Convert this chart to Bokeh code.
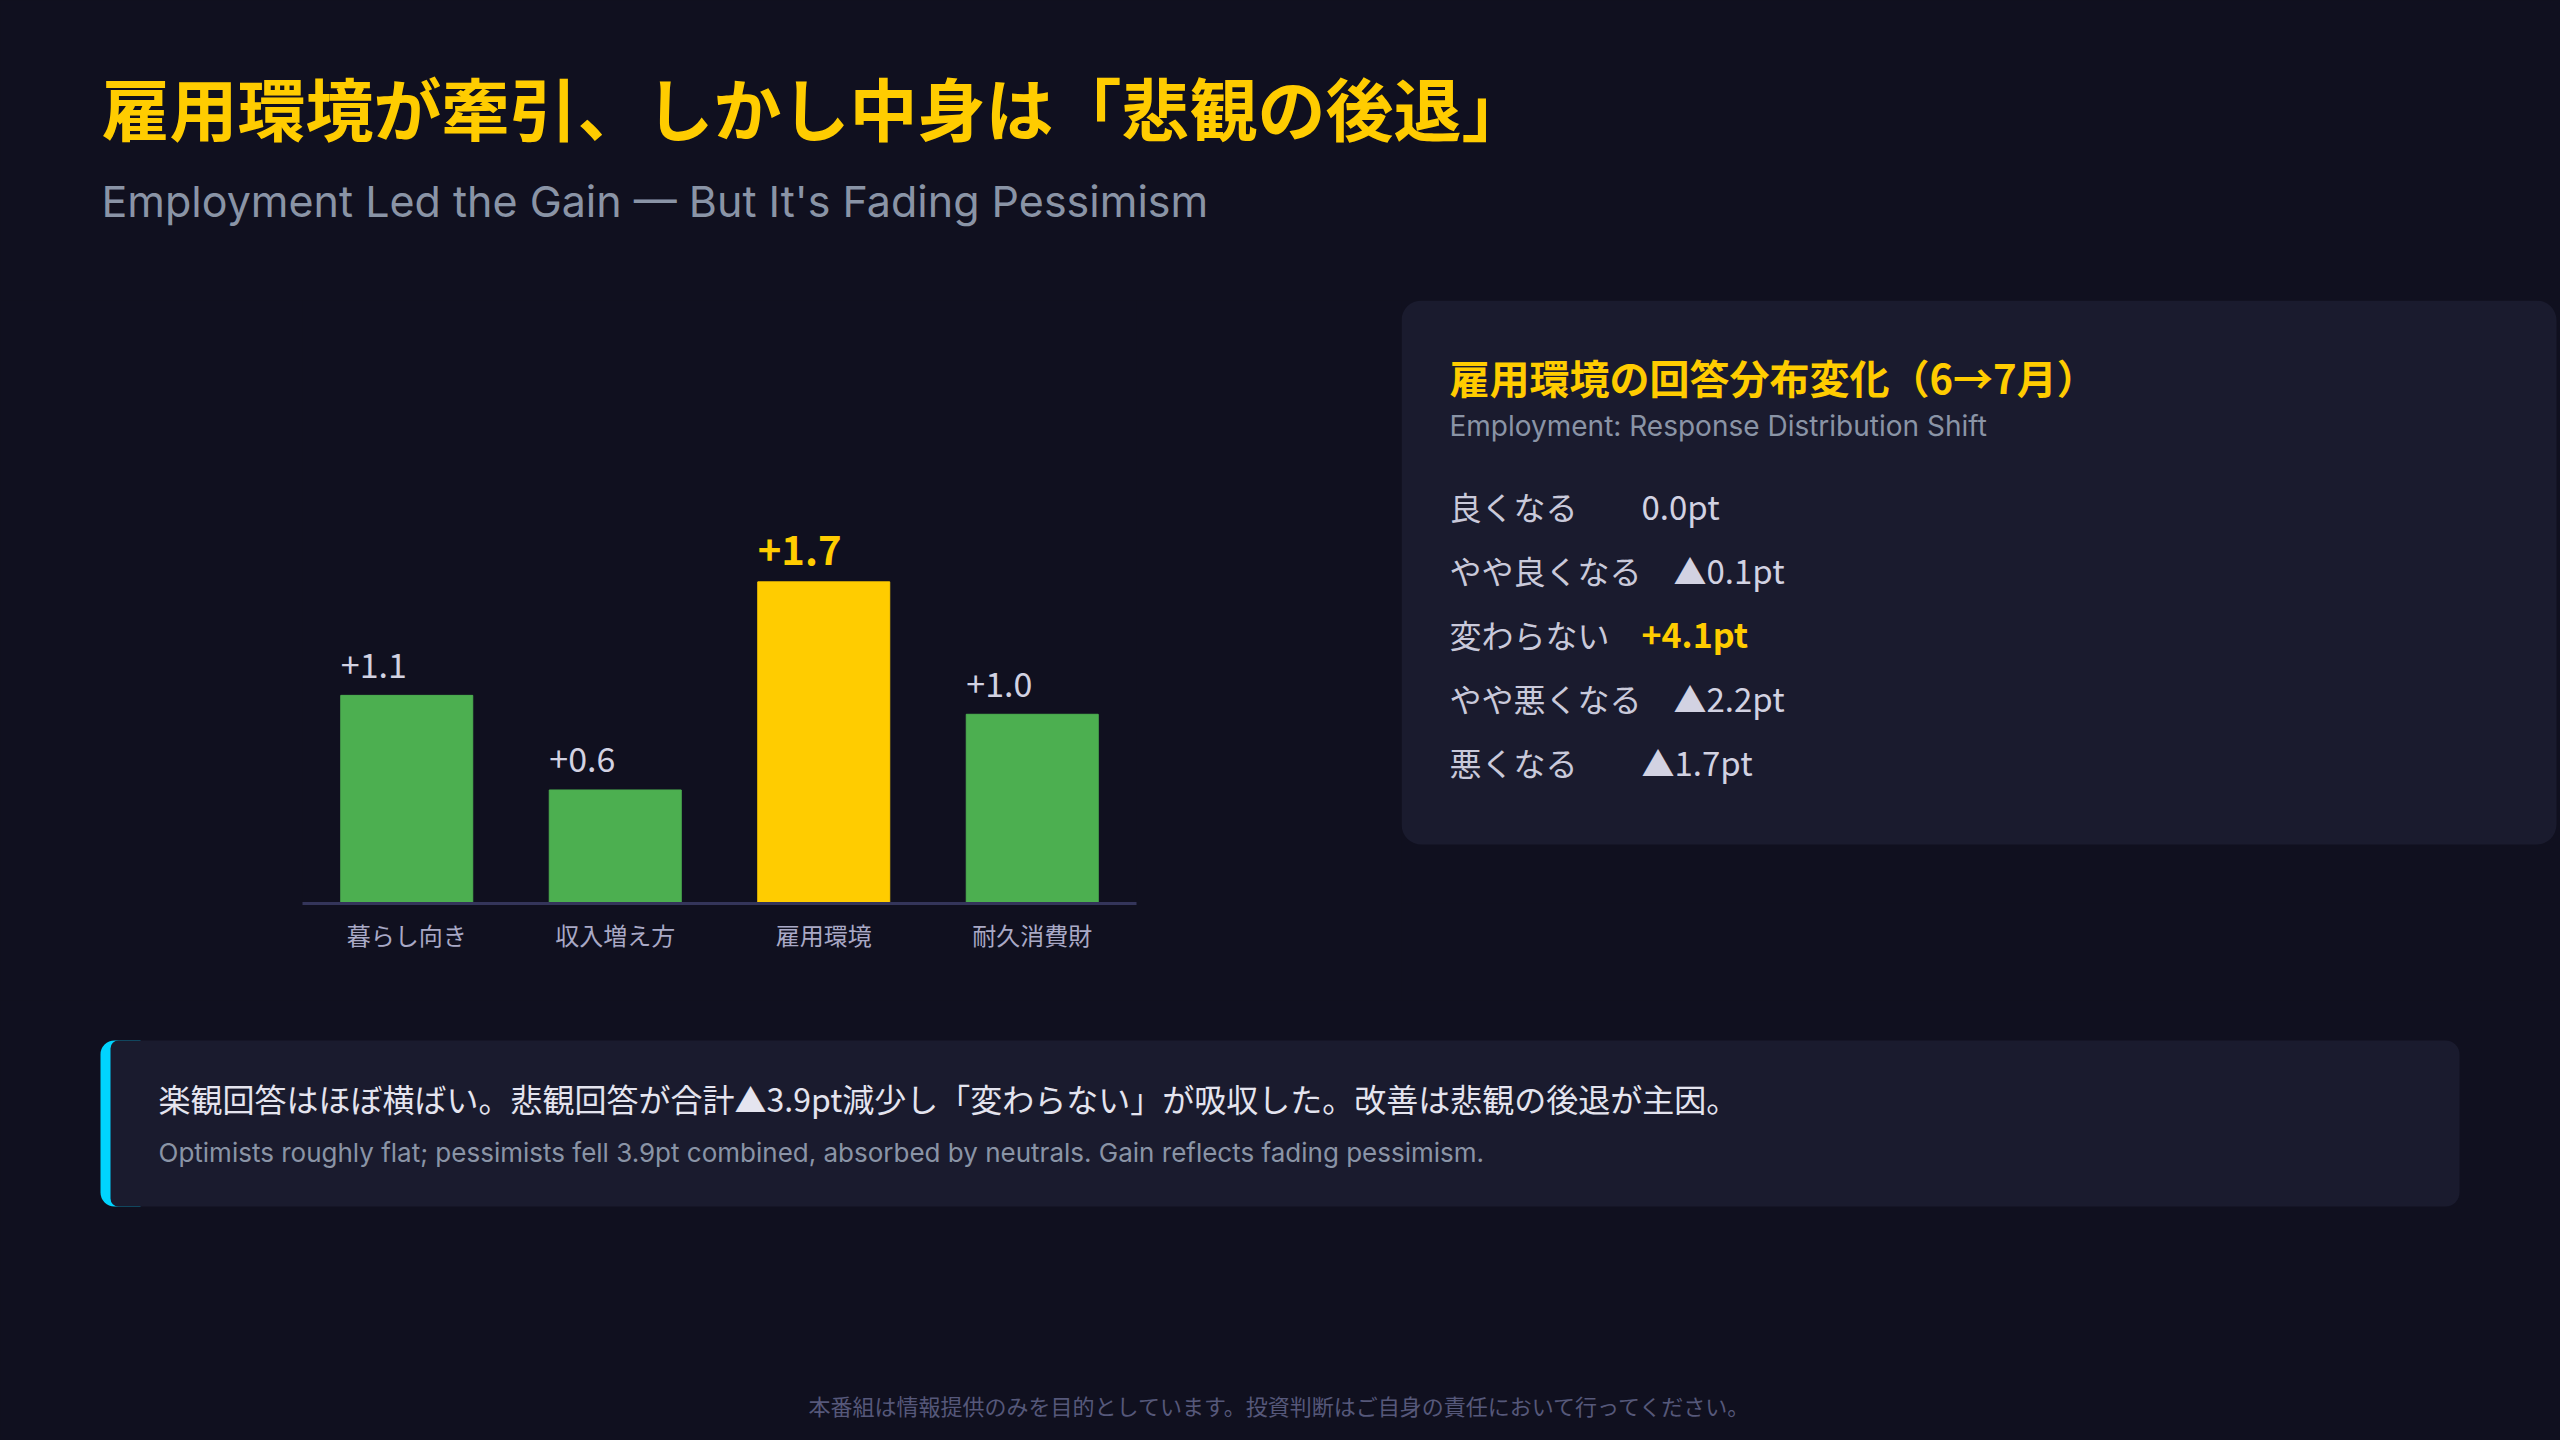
from bokeh.plotting import figure
from bokeh.models import Range1d, FactorRange, ColumnDataSource
from bokeh.layouts import column, row
from bokeh.transform import dodge
from bokeh.core.properties import value
from bokeh.embed import file_html
from bokeh.resources import INLINE

# ---------------- data ----------------
categories = ["暮らし向き", "収入増え方", "雇用環境", "耐久消費財"]
changes = [1.1, 0.6, 1.7, 1.0]

dist_labels = ["良くなる", "やや良くなる", "変わらない", "やや悪くなる", "悪くなる"]
dist_changes = [0.0, -0.1, 4.1, -2.2, -1.7]

title_ja = "雇用環境が牽引、しかし中身は「悲観の後退」"
title_en = "Employment Led the Gain — But It's Fading Pessimism"
card_title = "雇用環境の回答分布変化（6→7月）"
card_sub = "Employment: Response Distribution Shift"
note_ja = "楽観回答はほぼ横ばい。悲観回答が合計▲3.9pt減少し「変わらない」が吸収した。改善は悲観の後退が主因。"
note_en = "Optimists roughly flat; pessimists fell 3.9pt combined, absorbed by neutrals. Gain reflects fading pessimism."
footer = "本番組は情報提供のみを目的としています。投資判断はご自身の責任において行ってください。"

# ---------------- style ----------------
BG = "#10101f"
CARD = "#1a1b2e"
YELLOW = "#ffcc00"
GREEN = "#4caf50"
CYAN = "#00d4ff"
GREY = "#8a94a6"
LIGHT = "#d2d2e2"
JP = value("Noto Sans CJK JP")
EN = value("Inter")


def fmt(v, unit=""):
    if v > 0:
        return "+%.1f%s" % (v, unit)
    if v < 0:
        return "▲%.1f%s" % (abs(v), unit)
    return "%.1f%s" % (v, unit)


def canvas(x0, x1, y0, y1, bt=0, bb=0):
    # a drawing surface whose data coordinates are page pixels (y downwards)
    p = figure(width=x1 - x0, height=y1 - y0,
               x_range=Range1d(x0, x1), y_range=Range1d(y1 - bb, y0 + bt),
               toolbar_location=None, output_backend="svg",
               x_axis_location=None, y_axis_location=None,
               min_border=0, min_border_left=0, min_border_right=0,
               min_border_top=bt, min_border_bottom=bb,
               background_fill_color=BG, border_fill_color=BG,
               outline_line_color=None)
    p.grid.visible = False
    return p


# ---------------- header ----------------
top = canvas(0, 2560, 0, 300)
top.text(x=[101], y=[106], text=[title_ja], text_font=JP, text_font_style="bold",
         text_font_size="68px", text_color=YELLOW, text_baseline="middle")
top.text(x=[101], y=[200], text=[title_en], text_font=EN,
         text_font_size="43px", text_color=GREY, text_baseline="middle")

# ---------------- bar chart ----------------
hi = changes.index(max(changes))
bar_src = ColumnDataSource(dict(
    cat=categories, val=changes,
    color=[YELLOW if i == hi else GREEN for i in range(len(changes))]))
lab_norm = ColumnDataSource(dict(
    cat=[c for i, c in enumerate(categories) if i != hi],
    val=[v for i, v in enumerate(changes) if i != hi],
    txt=[fmt(v) for i, v in enumerate(changes) if i != hi]))
lab_hi = ColumnDataSource(dict(cat=[categories[hi]], val=[changes[hi]],
                               txt=[fmt(changes[hi])]))

bp = figure(width=1401, height=700,
            x_range=FactorRange(*categories, range_padding=0, factor_padding=0),
            y_range=Range1d(0, 3.187),
            toolbar_location=None, output_backend="svg",
            y_axis_location=None,
            min_border_left=302, min_border_right=265,
            min_border_top=0, min_border_bottom=97,
            background_fill_color=BG, border_fill_color=BG,
            outline_line_color=None)
bp.grid.visible = False
BW = 0.633
bp.vbar(x="cat", top="val", width=BW, color="color", source=bar_src)
bp.text(x=dodge("cat", -BW / 2, range=bp.x_range), y="val", text="txt",
        source=lab_norm, text_font=JP, text_font_size="34px",
        text_color=LIGHT, text_baseline="middle", y_offset=-30)
bp.text(x=dodge("cat", -BW / 2, range=bp.x_range), y="val", text="txt",
        source=lab_hi, text_font=JP, text_font_style="bold",
        text_font_size="40px", text_color=YELLOW,
        text_baseline="middle", y_offset=-32)
ax = bp.xaxis[0]
ax.axis_line_color = "#34355a"
ax.axis_line_width = 3
ax.major_tick_line_color = None
ax.minor_tick_line_color = None
ax.major_tick_out = 0
ax.major_label_standoff = 13
ax.major_label_text_font = "Noto Sans CJK JP"
ax.major_label_text_font_size = "24px"
ax.major_label_text_color = "#a9a9c6"

# ---------------- card ----------------
card = canvas(1401, 2560, 300, 1000, bt=0, bb=97)
card.quad(left=[1401], right=[2556], top=[300], bottom=[844],
          fill_color=CARD, line_color=None, border_radius=20)
card.text(x=[1449], y=[376], text=[card_title], text_font=JP,
          text_font_style="bold", text_font_size="40px", text_color=YELLOW,
          text_baseline="middle")
card.text(x=[1449], y=[425], text=[card_sub], text_font=EN,
          text_font_size="28px", text_color=GREY, text_baseline="middle")
ROW_X, ROW_Y0, ROW_DY, ROW_FS = 1449, 505, 64, 32
row_y = [ROW_Y0 + i * ROW_DY for i in range(len(dist_labels))]
card.text(x=[ROW_X] * len(dist_labels), y=row_y, text=dist_labels,
          text_font=JP, text_font_size="32px", text_color="#c9c9da",
          text_baseline="middle")
dhi = dist_changes.index(max(dist_changes))
val_x = [ROW_X + (max(len(l), 5) + 1) * ROW_FS for l in dist_labels]
nx = [x for i, x in enumerate(val_x) if i != dhi]
ny = [y for i, y in enumerate(row_y) if i != dhi]
nt = [fmt(v, "pt") for i, v in enumerate(dist_changes) if i != dhi]
card.text(x=nx, y=ny, text=nt, text_font=JP, text_font_size="33px",
          text_color=LIGHT, text_baseline="middle")
card.text(x=[val_x[dhi]], y=[row_y[dhi]], text=[fmt(dist_changes[dhi], "pt")],
          text_font=JP, text_font_style="bold", text_font_size="34px",
          text_color=YELLOW, text_baseline="middle")

# ---------------- note + footer ----------------
bot = canvas(0, 2560, 1000, 1440)
bot.quad(left=[100], right=[140], top=[1040], bottom=[1206],
         fill_color=CYAN, line_color=None, border_radius=[14, 0, 0, 14])
bot.quad(left=[110], right=[2459], top=[1040], bottom=[1206],
         fill_color=CARD, line_color=None, border_radius=[8, 14, 14, 8])
bot.text(x=[158], y=[1097], text=[note_ja], text_font=JP,
         text_font_size="32px", text_color="#e4e4ef", text_baseline="middle")
bot.text(x=[158], y=[1152], text=[note_en], text_font=EN,
         text_font_size="26px", text_color=GREY, text_baseline="middle")
bot.text(x=[1280], y=[1404], text=[footer], text_font=JP,
         text_font_size="22px", text_color="#56587a", text_align="center",
         text_baseline="middle")

page = column(top, row(bp, card, spacing=0), bot, spacing=0)

html = file_html(page, INLINE)
html = html.replace("</head>",
                    "<style>html,body{background:%s;margin:0;}</style></head>" % BG, 1)
open("out.html", "w").write(html)
